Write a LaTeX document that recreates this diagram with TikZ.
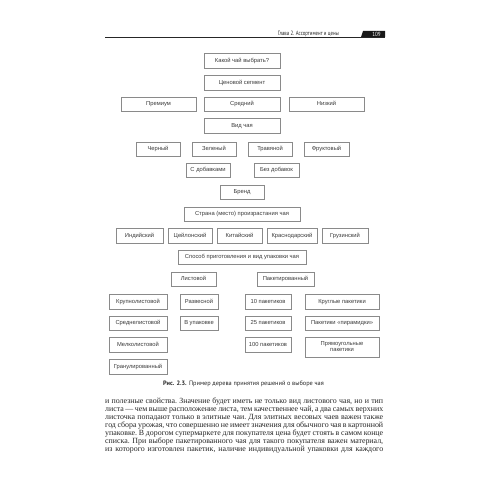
\documentclass[tikz,border=0pt]{standalone}
\usepackage{fontspec}
\setmainfont{Liberation Serif}
\setsansfont{Liberation Sans}
\newfontfamily\hdfont{PT Sans}
\usetikzlibrary{positioning}
\definecolor{frm}{HTML}{8A8A8A}
\definecolor{txt}{HTML}{3A3A3A}
\newcommand{\boxfont}{\fontsize{5.8}{6.8}\selectfont\sffamily}
\newcommand{\bodyfont}{\fontsize{7.9}{8}\selectfont\rmfamily\frenchspacing}
\tikzset{
  tbox/.style={draw=frm,line width=.5pt,minimum height=14.5pt,inner sep=1pt,text height=4.3pt,text depth=1.3pt,align=center,font=\boxfont,text=txt},
  tline/.style={anchor=base west,inner sep=0pt,font=\bodyfont,text=black!85},
}

\begin{document}
\begin{tikzpicture}[x=1pt,y=-1pt]
\fill[white] (0,0) rectangle (500,500);
\useasboundingbox (0,0) rectangle (500,500);
% running head
\coordinate (hl) at (105,37);
\coordinate (hr) at (385,37);
\draw[line width=.8pt,black!85] (hl) -- (hr);
\node[anchor=base east,inner sep=0pt,font=\hdfont\fontsize{6.2}{7}\selectfont,text=black!85] (head) at (339,35.3) {\scalebox{0.78}[1]{Глава 2. Ассортимент и цены}};
\fill[black!90] (363,31) -- (385,31) -- (385,37) -- (361,37) -- cycle;
\node[inner sep=0pt,font=\hdfont\fontsize{6}{7}\selectfont,text=white] (pnum) at (376.5,34.2) {\scalebox{0.85}[1]{109}};
% tree
\node[tbox,minimum width=76pt] (q) at (242,61) {Какой чай выбрать?};
\node[tbox,minimum width=76pt] (seg) at (242,83) {Ценовой сегмент};
\node[tbox,minimum width=75pt] (prem) at (158.5,104.5) {Премиум};
\node[tbox,minimum width=76pt] (mid) at (242,104.5) {Средний};
\node[tbox,minimum width=75pt] (low) at (326.5,104.5) {Низкий};
\node[tbox,minimum width=76pt] (kind) at (242,126) {Вид чая};
\node[tbox,minimum width=44pt] (black) at (158,149) {Черный};
\node[tbox,minimum width=44pt] (green) at (214,149) {Зеленый};
\node[tbox,minimum width=44pt] (herb) at (270,149) {Травяной};
\node[tbox,minimum width=45pt] (fruit) at (326.5,149) {Фруктовый};
\node[tbox,minimum width=44pt] (add) at (208,170) {С добавками};
\node[tbox,minimum width=45pt] (noadd) at (276.5,170) {Без добавок};
\node[tbox,minimum width=44pt] (brand) at (242,192) {Бренд};
\node[tbox,minimum width=116pt] (land) at (242,214) {Страна (место) произрастания чая};
\node[tbox,minimum width=47pt] (ind) at (139.5,235.5) {Индийский};
\node[tbox,minimum width=44pt] (cey) at (190,235.5) {Цейлонский};
\node[tbox,minimum width=45pt] (chn) at (239.5,235.5) {Китайский};
\node[tbox,minimum width=50pt] (krd) at (292,235.5) {Краснодарский};
\node[tbox,minimum width=46pt] (geo) at (345,235.5) {Грузинский};
\node[tbox,minimum width=128pt] (prep) at (242,257) {Способ приготовления и вид упаковки чая};
\node[tbox,minimum width=45pt] (leaf) at (193.5,279) {Листовой};
\node[tbox,minimum width=57pt] (bag) at (285.5,279) {Пакетированный};
\node[tbox,minimum width=58pt] (big) at (138,301.5) {Крупнолистовой};
\node[tbox,minimum width=38pt] (loose) at (199,301.5) {Развесной};
\node[tbox,minimum width=46pt] (b10) at (268,301.5) {10 пакетиков};
\node[tbox,minimum width=74pt] (rnd) at (342,301.5) {Круглые пакетики};
\node[tbox,minimum width=58pt] (medium) at (138,323) {Среднелистовой};
\node[tbox,minimum width=38pt] (pack) at (199,323) {В упаковке};
\node[tbox,minimum width=46pt] (b25) at (268,323) {25 пакетиков};
\node[tbox,minimum width=74pt] (pyr) at (342,323) {Пакетики «пирамидки»};
\node[tbox,minimum width=58pt] (small) at (138,344.5) {Мелколистовой};
\node[tbox,minimum width=46pt] (b100) at (268,344.5) {100 пакетиков};
\node[tbox,minimum width=74pt,minimum height=20pt,text height=11.1pt] (rect) at (342,347) {Прямоугольные\\пакетики};
\node[tbox,minimum width=58pt] (gran) at (138,366.5) {Гранулированный};
% caption
\node[inner sep=0pt,font=\hdfont\fontsize{6.3}{7}\selectfont,text=black!85] (cap) at (243.5,384) {\textbf{Рис. 2.3.} Пример дерева принятия решений о выборе чая};
% body text
\foreach \ln [count=\i from 0] in {
  {и полезные свойства. Значение будет иметь не только вид листового чая, но и тип},
  {листа — чем выше расположение листа, тем качественнее чай, а два самых верхних},
  {листочка попадают только в элитные чаи. Для элитных весовых чаев важен также},
  {год сбора урожая, что совершенно не имеет значения для обычного чая в картонной},
  {упаковке. В дорогом супермаркете для покупателя цена будет стоять в самом конце},
  {списка. При выборе пакетированного чая для такого покупателя важен материал,},
  {из которого изготовлен пакетик, наличие индивидуальной упаковки для каждого}}
  \node[tline] (body\i) at (105,403.5+8*\i) {\makebox[278pt][s]{\ln}};
\end{tikzpicture}
\end{document}
